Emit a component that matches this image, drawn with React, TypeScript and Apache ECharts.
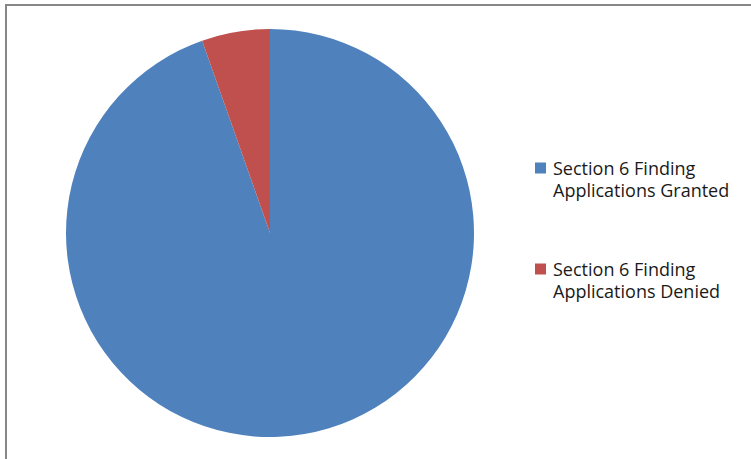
import React, { useEffect, useRef } from "react";
import * as echarts from "echarts";

const categories = [
  "Section 6 Finding Applications Granted",
  "Section 6 Finding Applications Denied",
];
const values = [94.6, 5.4];
const colors = ["#4F81BD", "#C0504D"];
const legendLines = [
  ["Section 6 Finding", "Applications Granted"],
  ["Section 6 Finding", "Applications Denied"],
];

const FONT = "'Open Sans', 'Liberation Sans', sans-serif";

export default function App() {
  const ref = useRef<HTMLDivElement>(null);
  useEffect(() => {
    if (!ref.current) return;
    const chart = echarts.init(ref.current, null, { renderer: "svg" });
    chart.setOption({
      animation: false,
      backgroundColor: "#ffffff",
      graphic: [
        {
          type: "rect",
          shape: { x: 6, y: 5, width: 800, height: 500 },
          style: { fill: "none", stroke: "#878787", lineWidth: 2 },
          silent: true,
        },
      ],
      legend: {
        orient: "vertical",
        left: 525,
        top: 154,
        icon: "none",
        itemWidth: 0,
        itemHeight: 11,
        itemGap: 61,
        selectedMode: false,
        data: categories,
        formatter: (name: string) => {
          const i = categories.indexOf(name);
          const key = i === 0 ? "g" : "d";
          return `{${key}|}{gap|}{t|${legendLines[i][0]}}\n{ind|}{t|${legendLines[i][1]}}`;
        },
        textStyle: {
          rich: {
            g: { width: 11, height: 11, backgroundColor: colors[0] },
            d: { width: 11, height: 11, backgroundColor: colors[1] },
            gap: { width: 7 },
            ind: { width: 18 },
            t: {
              fontFamily: FONT,
              fontSize: 18,
              color: "#1a1a1a",
              lineHeight: 22,
            },
          },
        },
      },
      series: [
        {
          type: "pie",
          center: [270, 233],
          radius: 204,
          startAngle: 90,
          clockwise: true,
          label: { show: false },
          labelLine: { show: false },
          emphasis: { disabled: true },
          itemStyle: { borderWidth: 0 },
          data: categories.map((c, i) => ({
            name: c,
            value: values[i],
            itemStyle: { color: colors[i] },
          })),
        },
      ],
    });
    return () => chart.dispose();
  }, []);
  return (
    <div
      ref={ref}
      style={{ position: "fixed", left: 0, top: 0, width: 751, height: 459 }}
    />
  );
}
